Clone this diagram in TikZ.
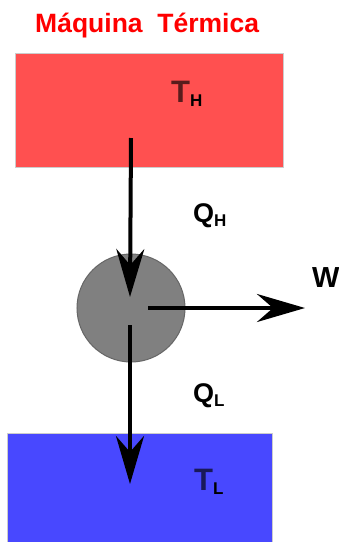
\documentclass[tikz,border=0pt]{standalone}
\usepackage{fontspec}
\setmainfont{Liberation Sans}
\usetikzlibrary{arrows.meta, positioning}
\definecolor{hotred}{RGB}{255, 80, 80}
\definecolor{coldblue}{RGB}{72, 72, 255}
\definecolor{engine}{RGB}{128, 128, 128}
\newcommand{\subtxt}[1]{\raisebox{-4pt}{\fontsize{17}{17}\selectfont #1}}

\begin{document}
\begin{tikzpicture}[
        x=1pt, y=-1pt,
        reservoir/.style={rectangle, draw=black!20, line width=0.6pt, inner sep=0pt},
        label/.style={font=\fontsize{27}{27}\selectfont\bfseries, anchor=base west, inner sep=0pt},
        arrow/.style={-{Stealth[length=48pt, width=28pt, inset=16pt]}, line width=4pt},
    ]
        \useasboundingbox (0,0) rectangle (339,542);
        % reservoirs and engine
        \node[reservoir, fill=hotred, minimum width=268pt, minimum height=114pt] (hot) at (149,110) {};
        \node[reservoir, fill=coldblue, minimum width=265pt, minimum height=112pt] (cold) at (139.5,489) {};
        \node[circle, draw=black!60, fill=engine, line width=1pt, minimum size=108pt] (eng) at (131,308) {};

        \node[label, red, font=\fontsize{26.5}{26.5}\selectfont\bfseries] (title) at (35,32) {Máquina\ \ Térmica};
        \node[label, font=\fontsize{31}{31}\selectfont\bfseries] (th) at (171,102) {\textcolor{hotred!35!black}{T}\subtxt{H}};
        \node[label, font=\fontsize{31}{31}\selectfont\bfseries] (tl) at (194,490) {\textcolor{coldblue!35!black}{T}\subtxt{L}};
        \node[label] (qh) at (193,222) {Q\subtxt{H}};
        \node[label] (ql) at (193,402) {Q\subtxt{L}};
        \node[label, font=\fontsize{29}{29}\selectfont\bfseries] (w) at (312,287) {W};

        \coordinate (hotsrc) at (131,138);
        \coordinate (engin) at (130,297);
        \coordinate (engout) at (130,325);
        \coordinate (coldin) at (130,484);
        \coordinate (engw) at (148,308);
        \coordinate (work) at (305,308);

        \draw[arrow] (hotsrc) -- (engin);
        \draw[arrow] (engout) -- (coldin);
        \draw[arrow] (engw) -- (work);
\end{tikzpicture}
\end{document}
